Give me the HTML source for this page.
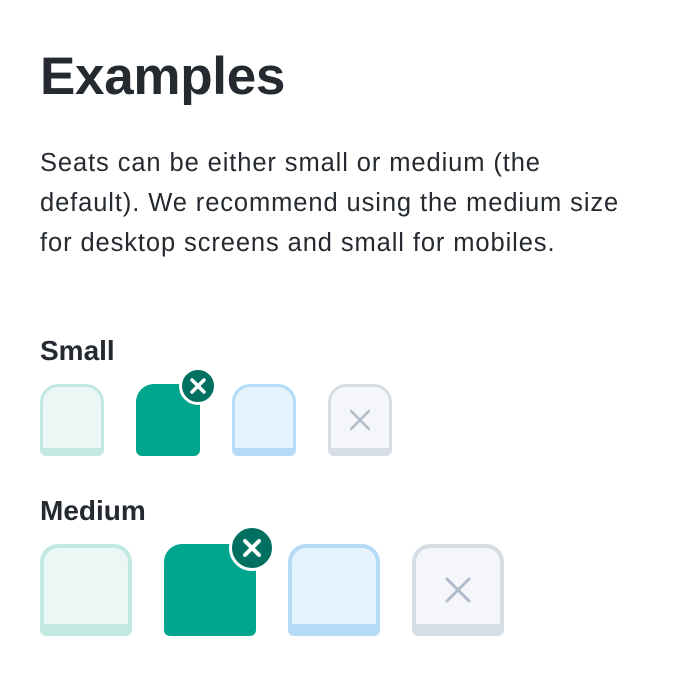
<!DOCTYPE html>
<html><head><meta charset="utf-8"><style>
body{margin:0;width:686px;height:676px;background:#fff;position:relative;overflow:hidden;font-family:"Liberation Sans",sans-serif;color:#252a31}
.t{position:absolute;left:40px;white-space:nowrap}
.s{position:absolute;box-sizing:border-box}
.badge{position:absolute;border-radius:50%;background:#007060;border:3px solid #fff;box-sizing:border-box}
svg{position:absolute}
</style></head><body>
<div class="t" style="top:42px;font-size:53px;font-weight:bold;line-height:70px;letter-spacing:-0.3px">Examples</div>
<div class="t" style="top:143px;font-size:25.5px;line-height:40px;letter-spacing:0.9px;color:#252a31">Seats can be either small or medium (the<br>default). We recommend using the medium size<br>for desktop screens and small for mobiles.</div>
<div class="t" style="top:333px;font-size:28px;font-weight:bold;line-height:36px">Small</div>
<div class="t" style="top:493px;font-size:28px;font-weight:bold;line-height:36px">Medium</div>

<!-- small -->
<div class="s" style="left:40px;top:384px;width:64px;height:72px;border:3px solid #c2e8e2;border-bottom-width:8px;border-radius:18px 18px 6px 6px;background:#ebf7f5"></div>
<div class="s" style="left:136px;top:384px;width:64px;height:72px;border-radius:18px 18px 6px 6px;background:#00a58e"></div>
<div class="badge" style="left:179px;top:367px;width:38px;height:38px"></div>
<svg style="left:179px;top:367px" width="38" height="38"><path d="M13 13L25 25M25 13L13 25" stroke="#fff" stroke-width="3.5" stroke-linecap="round"/></svg>
<div class="s" style="left:232px;top:384px;width:64px;height:72px;border:3px solid #b4dbf8;border-bottom-width:8px;border-radius:18px 18px 6px 6px;background:#e6f3fd"></div>
<div class="s" style="left:328px;top:384px;width:64px;height:72px;border:3px solid #d6dde5;border-bottom-width:8px;border-radius:18px 18px 6px 6px;background:#f4f6f9"></div>
<svg style="left:348px;top:408px" width="24" height="24"><path d="M3 3L21 21M21 3L3 21" stroke="#b0bccb" stroke-width="2.5" stroke-linecap="round"/></svg>

<!-- medium -->
<div class="s" style="left:40px;top:544px;width:92px;height:92px;border:4px solid #c2e8e2;border-bottom-width:12px;border-radius:18px 18px 6px 6px;background:#ebf7f5"></div>
<div class="s" style="left:164px;top:544px;width:92px;height:92px;border-radius:18px 18px 6px 6px;background:#00a58e"></div>
<div class="badge" style="left:229px;top:525px;width:46px;height:46px"></div>
<svg style="left:229px;top:525px" width="46" height="46"><path d="M16 16L30 30M30 16L16 30" stroke="#fff" stroke-width="4" stroke-linecap="round"/></svg>
<div class="s" style="left:288px;top:544px;width:92px;height:92px;border:4px solid #b4dbf8;border-bottom-width:12px;border-radius:18px 18px 6px 6px;background:#e6f3fd"></div>
<div class="s" style="left:412px;top:544px;width:92px;height:92px;border:4px solid #d6dde5;border-bottom-width:12px;border-radius:18px 18px 6px 6px;background:#f4f6f9"></div>
<svg style="left:444px;top:576px" width="28" height="28"><path d="M3 3L25 25M25 3L3 25" stroke="#b0bccb" stroke-width="3" stroke-linecap="round"/></svg>
</body></html>
